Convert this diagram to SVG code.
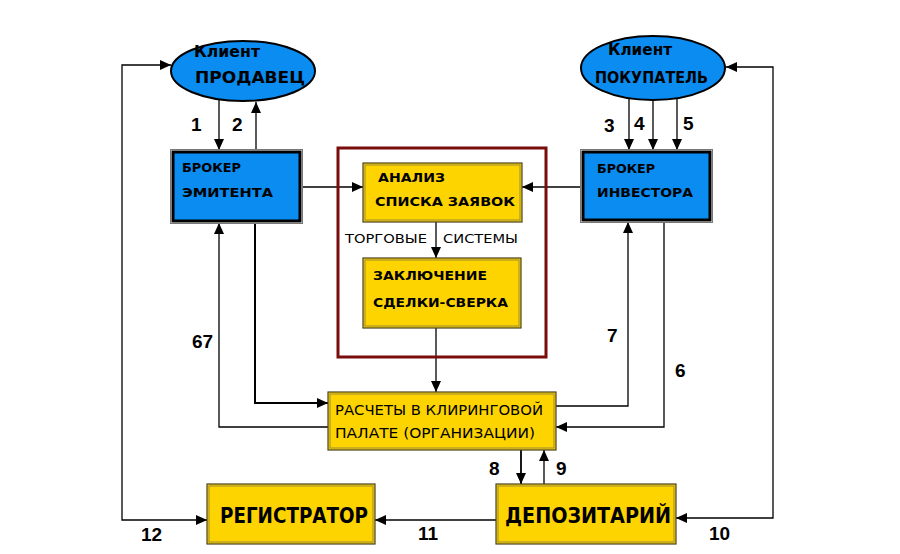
<svg xmlns="http://www.w3.org/2000/svg" width="900" height="554" viewBox="0 0 900 554">
<defs>
<marker id="ah" markerUnits="userSpaceOnUse" markerWidth="12" markerHeight="10" refX="11" refY="5" orient="auto-start-reverse">
<path d="M0,0 L11,5 L0,10 Z" fill="#000"/>
</marker>
<style>
.bg{fill:#fff}
.ell{fill:#0a8cf0;stroke:#000;stroke-width:2}
.bluebox{fill:#0a8cf0;stroke:#000;stroke-width:3}
.blueout{fill:none;stroke:#777;stroke-width:1}
.ybox{fill:#fdd400;stroke:#4a4220;stroke-width:1.2}
.yin{fill:none;stroke:#9a8a3a;stroke-width:1}
.frame{fill:none;stroke:#7a0c0c;stroke-width:3}
.c{fill:none;stroke:#000;stroke-width:1.3}
.ca{fill:none;stroke:#000;stroke-width:1.3;marker-end:url(#ah)}
.cb{fill:none;stroke:#000;stroke-width:1.3;marker-start:url(#ah);marker-end:url(#ah)}
.t{font-family:"DejaVu Sans","Liberation Sans",sans-serif;font-weight:bold;fill:#000}
.tr{font-family:"DejaVu Sans","Liberation Sans",sans-serif;fill:#000}
.n{font-family:"Liberation Sans","DejaVu Sans",sans-serif;font-weight:bold;font-size:19px;fill:#000}
</style>
</defs>
<rect class="bg" x="0" y="0" width="900" height="554"/>

<g id="connectors">
<path class="ca" d="M219,100 L219,150"/>
<path class="ca" d="M256,150 L256,102"/>
<path class="ca" d="M629,98 L629,150"/>
<path class="ca" d="M653,100 L653,150"/>
<path class="ca" d="M677,98 L677,150"/>
<path class="ca" d="M302,187 L363,187"/>
<path class="ca" d="M581,187 L522,187"/>
<path class="ca" d="M436,222 L436,258"/>
<path class="ca" d="M436,328 L436,392"/>
<path class="ca" d="M255,223 L255,403 L328,403" style="stroke-width:2"/>
<path class="ca" d="M328,427 L219,427 L219,223"/>
<path class="ca" d="M556,406 L628,406 L628,222"/>
<path class="ca" d="M664,222 L664,427 L556,427"/>
<path class="ca" d="M521,450 L521,484" style="stroke-width:1.8"/>
<path class="ca" d="M544,484 L544,450"/>
<path class="ca" d="M496,520 L375,520"/>
<path class="cb" d="M171,65 L122,65 L122,520 L207,520"/>
<path class="cb" d="M726,67 L773,67 L773,518 L676,518"/>
</g>

<g id="frame-trading">
<rect class="frame" x="338" y="148" width="208" height="209"/>
</g>

<g id="client-seller">
<ellipse class="ell" cx="243" cy="71" rx="72" ry="30"/>
<text class="t" x="194" y="57" font-size="15" textLength="66" lengthAdjust="spacingAndGlyphs">Клиент</text>
<text class="t" x="195" y="83" font-size="15" textLength="110" lengthAdjust="spacingAndGlyphs">ПРОДАВЕЦ</text>
</g>

<g id="client-buyer">
<ellipse class="ell" cx="653" cy="68" rx="72" ry="32"/>
<text class="t" x="608" y="55" font-size="15" textLength="64" lengthAdjust="spacingAndGlyphs">Клиент</text>
<text class="t" x="595" y="83" font-size="15" textLength="113" lengthAdjust="spacingAndGlyphs">ПОКУПАТЕЛЬ</text>
</g>

<g id="broker-issuer">
<rect class="blueout" x="170.5" y="149.5" width="132" height="74"/>
<rect class="bluebox" x="173" y="152" width="127" height="69"/>
<text class="t" x="182" y="172" font-size="12.5" textLength="59" lengthAdjust="spacingAndGlyphs">БРОКЕР</text>
<text class="t" x="182" y="197" font-size="12.5" textLength="91" lengthAdjust="spacingAndGlyphs">ЭМИТЕНТА</text>
</g>

<g id="broker-investor">
<rect class="blueout" x="580.5" y="149.5" width="132" height="73"/>
<rect class="bluebox" x="583" y="152" width="127" height="68"/>
<text class="t" x="597" y="173" font-size="12.5" textLength="58" lengthAdjust="spacingAndGlyphs">БРОКЕР</text>
<text class="t" x="597" y="197" font-size="12.5" textLength="96" lengthAdjust="spacingAndGlyphs">ИНВЕСТОРА</text>
</g>

<g id="analysis">
<rect class="ybox" x="363" y="163" width="159" height="59"/>
<rect class="yin" x="365" y="165" width="155" height="55"/>
<text class="t" x="378" y="182" font-size="12.5" textLength="67" lengthAdjust="spacingAndGlyphs">АНАЛИЗ</text>
<text class="t" x="375" y="206" font-size="12.5" textLength="140" lengthAdjust="spacingAndGlyphs">СПИСКА ЗАЯВОК</text>
</g>

<g id="trading-systems-label">
<text class="tr" x="345" y="243" font-size="12" textLength="82" lengthAdjust="spacingAndGlyphs">ТОРГОВЫЕ</text>
<text class="tr" x="443" y="243" font-size="12" textLength="75" lengthAdjust="spacingAndGlyphs">СИСТЕМЫ</text>
</g>

<g id="deal">
<rect class="ybox" x="363" y="258" width="158" height="70"/>
<rect class="yin" x="365" y="260" width="154" height="66"/>
<text class="t" x="373" y="280" font-size="12.5" textLength="114" lengthAdjust="spacingAndGlyphs">ЗАКЛЮЧЕНИЕ</text>
<text class="t" x="373" y="307" font-size="12.5" textLength="135" lengthAdjust="spacingAndGlyphs">СДЕЛКИ-СВЕРКА</text>
</g>

<g id="clearing">
<rect class="ybox" x="328" y="392" width="228" height="58"/>
<rect class="yin" x="330" y="394" width="224" height="54"/>
<text class="tr" x="335" y="415" font-size="13.5" textLength="208" lengthAdjust="spacingAndGlyphs">РАСЧЕТЫ В КЛИРИНГОВОЙ</text>
<text class="tr" x="335" y="438" font-size="13.5" textLength="200" lengthAdjust="spacingAndGlyphs">ПАЛАТЕ (ОРГАНИЗАЦИИ)</text>
</g>

<g id="registrar">
<rect class="ybox" x="207" y="484" width="168" height="60"/>
<rect class="yin" x="209" y="486" width="164" height="56"/>
<text class="t" x="220" y="523" font-size="22" textLength="148" lengthAdjust="spacingAndGlyphs">РЕГИСТРАТОР</text>
</g>

<g id="depositary">
<rect class="ybox" x="496" y="484" width="180" height="60"/>
<rect class="yin" x="498" y="486" width="176" height="56"/>
<text class="t" x="505" y="523" font-size="22" textLength="166" lengthAdjust="spacingAndGlyphs">ДЕПОЗИТАРИЙ</text>
</g>

<g id="numbers">
<text class="n" x="191" y="131">1</text>
<text class="n" x="232" y="131">2</text>
<text class="n" x="604" y="132">3</text>
<text class="n" x="634" y="130">4</text>
<text class="n" x="683" y="130">5</text>
<text class="n" x="675" y="377">6</text>
<text class="n" x="607" y="342">7</text>
<text class="n" x="192" y="348">67</text>
<text class="n" x="489" y="475">8</text>
<text class="n" x="556" y="475">9</text>
<text class="n" x="709" y="540">10</text>
<text class="n" x="418" y="540">11</text>
<text class="n" x="141" y="541">12</text>
</g>
</svg>
